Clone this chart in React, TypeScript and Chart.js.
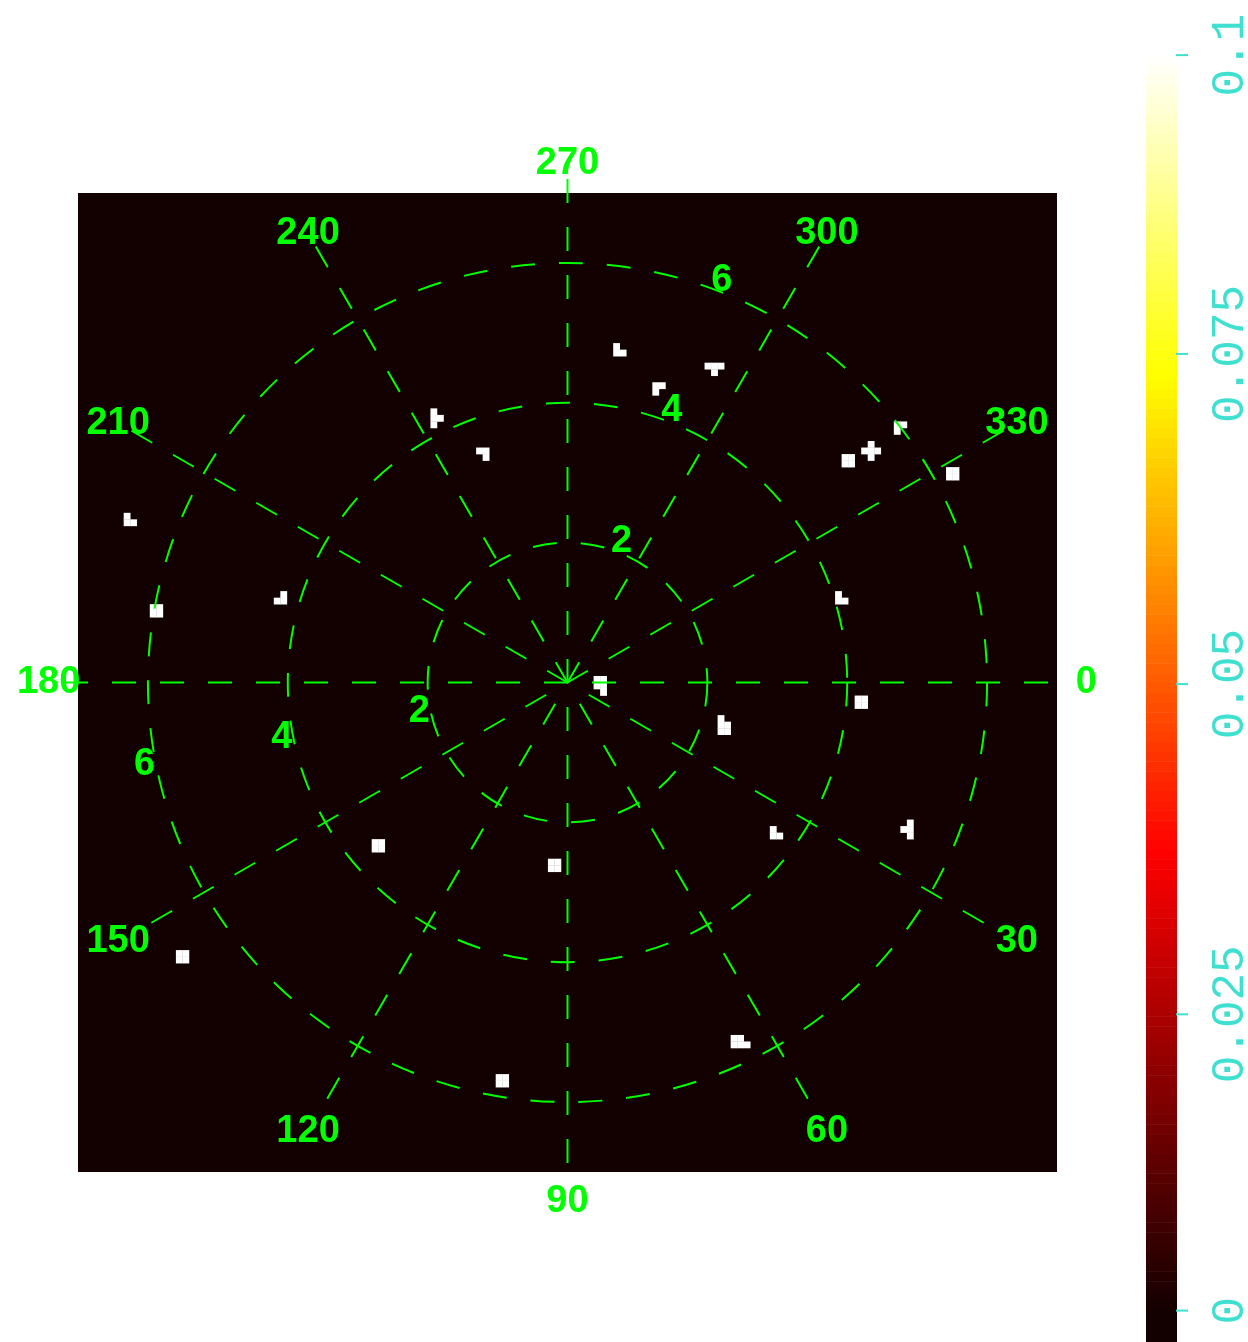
import React, { useEffect, useRef } from 'react';
import { Chart, registerables } from 'chart.js';

Chart.register(...registerables);

// ---------- polar grid ----------
const RING_RADII = [2, 4, 6];
const RADIUS_LABELS = ['2', '4', '6'];
const RADIUS_LABEL_ANGLES = [291, 169];
const SPOKE_ANGLES = [0, 30, 60, 90, 120, 150];
const ANGLE_TICKS = [0, 30, 60, 90, 120, 150, 180, 210, 240, 270, 300, 330];
const ANGLE_LABELS = ['0', '30', '60', '90', '120', '150', '180', '210', '240', '270', '300', '330'];
const SPOKE_EXTENT = 7.2;
const ANGLE_LABEL_RADIUS = 7.42;
const RADIUS_LABEL_OFFSET = 0.16;

// ---------- histogram image (150 x 150 bins over [-7, 7]) ----------
const GRID_MIN = -7;
const GRID_MAX = 7;
const GRID_BINS = 150;
const CELL_COL = [
  82, 82, 83,
  88, 89, 88,
  96, 97, 98, 97,
  125, 126, 125,
  121, 120, 121, 122, 121,
  117, 118, 117, 118,
  133, 134, 133, 134,
  54, 54, 55, 54,
  61, 62, 62,
  7, 7, 8,
  11, 12, 11, 12,
  31, 30, 31,
  116, 116, 117,
  79, 80, 79, 80, 80,
  98, 98, 99, 98, 99,
  119, 120, 119, 120,
  106, 106, 107,
  127, 126, 127, 127,
  45, 46, 45, 46,
  72, 73, 72, 73,
  15, 16, 15, 16,
  64, 65, 64, 65,
  100, 101, 100, 101, 102,
];
const CELL_ROW = [
  23, 24, 24,
  29, 29, 30,
  26, 26, 26, 27,
  35, 35, 36,
  38, 39, 39, 39, 40,
  40, 40, 41, 41,
  42, 42, 43, 43,
  33, 34, 34, 35,
  39, 39, 40,
  49, 50, 50,
  63, 63, 64, 64,
  61, 62, 62,
  61, 62, 62,
  74, 74, 75, 75, 76,
  80, 81, 81, 82, 82,
  77, 77, 78, 78,
  97, 98, 98,
  96, 97, 97, 98,
  99, 99, 100, 100,
  102, 102, 103, 103,
  116, 116, 117, 117,
  135, 135, 136, 136,
  129, 129, 130, 130, 130,
];
const CELL_VALUE = CELL_COL.map(() => 0.1);

// ---------- colour bar ----------
const VMIN = 0;
const VMAX = 0.1;
const CB_MIN = -0.0025;
const CB_MAX = 0.102;
const CB_TICK_VALUES = [0, 0.0236, 0.0499, 0.0762, 0.1];
const CB_TICK_LABELS = ['0', '0.025', '0.05', '0.075', '0.1'];
const CB_LEVELS = 128;

const GREEN = '#00ff00';
const TURQ = '#40e0d0';

function hot(t: number): string {
  const u = Math.max(0, Math.min(1, t));
  const r0 = 0.075;
  const r = u < 0.365079 ? r0 + (1 - r0) * (u / 0.365079) : 1;
  const g = u < 0.365079 ? 0 : u < 0.746032 ? (u - 0.365079) / (0.746032 - 0.365079) : 1;
  const b = u < 0.746032 ? 0 : (u - 0.746032) / (1 - 0.746032);
  return `rgb(${Math.round(r * 255)},${Math.round(g * 255)},${Math.round(b * 255)})`;
}

const polarPlugin = {
  id: 'polarOverlay',
  beforeDatasetsDraw(chart: any) {
    const { ctx, chartArea: a, scales } = chart;
    const xs = scales.x;
    const ys = scales.y;
    ctx.save();
    ctx.fillStyle = hot(0);
    ctx.fillRect(a.left, a.top, a.right - a.left, a.bottom - a.top);
    const B = (GRID_MAX - GRID_MIN) / GRID_BINS;
    const pts = chart.data.datasets[0].data as any[];
    pts.forEach((p) => {
      const x0 = xs.getPixelForValue(p.x - B / 2);
      const x1 = xs.getPixelForValue(p.x + B / 2);
      const y0 = ys.getPixelForValue(p.y - B / 2);
      const y1 = ys.getPixelForValue(p.y + B / 2);
      ctx.fillStyle = hot((p.v - VMIN) / (VMAX - VMIN));
      ctx.fillRect(Math.min(x0, x1), Math.min(y0, y1), Math.abs(x1 - x0) + 0.3, Math.abs(y1 - y0) + 0.3);
    });
    ctx.restore();
  },
  afterDatasetsDraw(chart: any) {
    const { ctx, scales } = chart;
    const xs = scales.x;
    const ys = scales.y;
    const cx = xs.getPixelForValue(0);
    const cy = ys.getPixelForValue(0);
    const pt = (r: number, deg: number) => {
      const t = (deg * Math.PI) / 180;
      return [xs.getPixelForValue(r * Math.cos(t)), ys.getPixelForValue(r * Math.sin(t))];
    };
    ctx.save();
    ctx.strokeStyle = GREEN;
    ctx.lineWidth = 2;
    ctx.setLineDash([24, 24]);
    RING_RADII.forEach((r) => {
      const rp = Math.abs(xs.getPixelForValue(r) - cx);
      ctx.beginPath();
      ctx.arc(cx, cy, rp, 0, Math.PI * 2);
      ctx.stroke();
    });
    SPOKE_ANGLES.forEach((deg) => {
      const [x0, y0] = pt(SPOKE_EXTENT, deg + 180);
      const [x1, y1] = pt(SPOKE_EXTENT, deg);
      ctx.beginPath();
      ctx.moveTo(x0, y0);
      ctx.lineTo(x1, y1);
      ctx.stroke();
    });
    ctx.setLineDash([]);
    ctx.fillStyle = GREEN;
    ctx.font = 'bold 38px "Liberation Sans", Arial, sans-serif';
    ctx.textAlign = 'center';
    ctx.textBaseline = 'middle';
    ANGLE_TICKS.forEach((deg, i) => {
      const [x, y] = pt(ANGLE_LABEL_RADIUS, deg);
      ctx.fillText(ANGLE_LABELS[i], x, y);
    });
    RADIUS_LABEL_ANGLES.forEach((deg) => {
      RING_RADII.forEach((r, i) => {
        const [x, y] = pt(r + RADIUS_LABEL_OFFSET, deg);
        ctx.fillText(RADIUS_LABELS[i], x, y);
      });
    });
    ctx.restore();
  },
};

const colorbarPlugin = {
  id: 'colorbarDraw',
  afterDatasetsDraw(chart: any) {
    const { ctx, chartArea: a, scales } = chart;
    const ys = scales.y;
    ctx.save();
    const band = (v0: number, v1: number, col: string) => {
      const p0 = ys.getPixelForValue(v0);
      const p1 = ys.getPixelForValue(v1);
      ctx.fillStyle = col;
      ctx.fillRect(a.left, Math.min(p0, p1), a.right - a.left, Math.abs(p1 - p0) + 0.5);
    };
    band(CB_MIN, VMIN, hot(0));
    for (let k = 0; k < CB_LEVELS; k++) {
      const v0 = VMIN + ((VMAX - VMIN) * k) / CB_LEVELS;
      const v1 = VMIN + ((VMAX - VMIN) * (k + 1)) / CB_LEVELS;
      band(v0, v1, hot((k + 0.5) / CB_LEVELS));
    }
    band(VMAX, CB_MAX, hot(1));
    ctx.strokeStyle = TURQ;
    ctx.fillStyle = TURQ;
    ctx.lineWidth = 2;
    ctx.font = '46px "Liberation Mono", "DejaVu Sans Mono", monospace';
    ctx.textAlign = 'center';
    ctx.textBaseline = 'alphabetic';
    CB_TICK_VALUES.forEach((v, i) => {
      const py = ys.getPixelForValue(v);
      ctx.beginPath();
      ctx.moveTo(a.right - 1, py);
      ctx.lineTo(a.right + 11, py);
      ctx.stroke();
      ctx.save();
      ctx.translate(a.right + 66, py);
      ctx.rotate(-Math.PI / 2);
      ctx.fillText(CB_TICK_LABELS[i], 0, 0);
      ctx.restore();
    });
    ctx.restore();
  },
};

export default function App() {
  const mainRef = useRef<HTMLCanvasElement>(null);
  const cbRef = useRef<HTMLCanvasElement>(null);

  useEffect(() => {
    const B = (GRID_MAX - GRID_MIN) / GRID_BINS;
    const cells = CELL_COL.map((c, i) => ({
      x: GRID_MIN + (c + 0.5) * B,
      y: GRID_MIN + (CELL_ROW[i] + 0.5) * B,
      v: CELL_VALUE[i],
    }));
    const main = new Chart(mainRef.current as HTMLCanvasElement, {
      type: 'scatter',
      data: { datasets: [{ data: cells as any, pointRadius: 0, pointHoverRadius: 0 }] },
      options: {
        responsive: false,
        maintainAspectRatio: false,
        animation: false,
        devicePixelRatio: 1,
        events: [],
        layout: { padding: { left: 78, top: 193, right: 43, bottom: 170 } },
        scales: {
          x: { type: 'linear', min: GRID_MIN, max: GRID_MAX, display: false },
          y: { type: 'linear', min: GRID_MIN, max: GRID_MAX, reverse: true, display: false },
        },
        plugins: { legend: { display: false }, tooltip: { enabled: false } },
      },
      plugins: [polarPlugin],
    });
    const cb = new Chart(cbRef.current as HTMLCanvasElement, {
      type: 'scatter',
      data: { datasets: [{ data: [], pointRadius: 0 }] },
      options: {
        responsive: false,
        maintainAspectRatio: false,
        animation: false,
        devicePixelRatio: 1,
        events: [],
        layout: { padding: { left: 46, top: 30, right: 71, bottom: 0 } },
        scales: {
          x: { type: 'linear', min: 0, max: 1, display: false },
          y: { type: 'linear', min: CB_MIN, max: CB_MAX, display: false },
        },
        plugins: { legend: { display: false }, tooltip: { enabled: false } },
      },
      plugins: [colorbarPlugin],
    });
    return () => {
      main.destroy();
      cb.destroy();
    };
  }, []);

  return (
    <div style={{ position: 'absolute', left: 0, top: 0, width: 1248, height: 1342, overflow: 'hidden', background: '#ffffff' }}>
      <canvas ref={mainRef} width={1100} height={1342} style={{ position: 'absolute', left: 0, top: 0 }} />
      <canvas ref={cbRef} width={148} height={1342} style={{ position: 'absolute', left: 1100, top: 0 }} />
    </div>
  );
}
